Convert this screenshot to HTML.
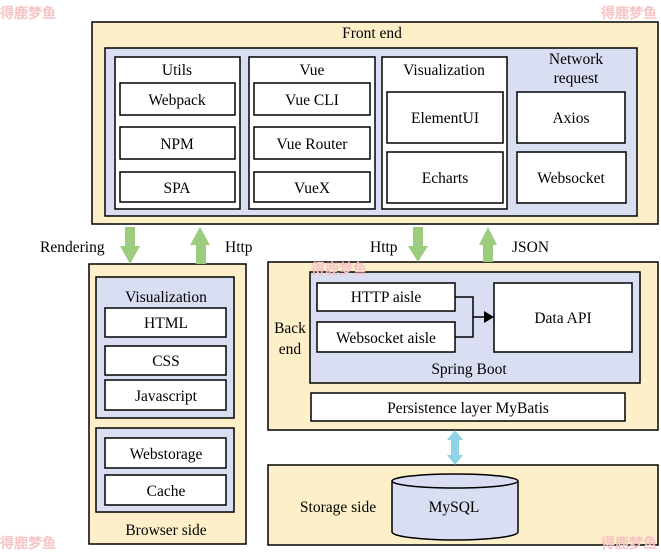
<!DOCTYPE html>
<html><head><meta charset="utf-8"><style>
body{margin:0;background:#fff}
svg text{font-family:"Liberation Serif",serif;font-size:15.5px;fill:#000}
</style></head><body>
<svg width="661" height="554" viewBox="0 0 661 554" xmlns="http://www.w3.org/2000/svg">
<g stroke="#000" stroke-width="1.5">
<!-- Front end -->
<rect x="92" y="22" width="566" height="202" fill="#fdf0c8"/>
<rect x="105" y="48" width="532" height="168" fill="#d9def3"/>
<rect x="115" y="57" width="125" height="152" fill="#fff"/>
<rect x="120" y="83" width="115" height="32" fill="#fff"/>
<rect x="120" y="127" width="115" height="32" fill="#fff"/>
<rect x="120" y="172" width="115" height="30" fill="#fff"/>
<rect x="249" y="57" width="126" height="152" fill="#fff"/>
<rect x="254" y="83" width="116" height="32" fill="#fff"/>
<rect x="254" y="127" width="116" height="32" fill="#fff"/>
<rect x="254" y="172" width="116" height="30" fill="#fff"/>
<rect x="382" y="57" width="125" height="152" fill="#fff"/>
<rect x="387" y="92" width="116" height="51" fill="#fff"/>
<rect x="387" y="152" width="116" height="51" fill="#fff"/>
<rect x="517" y="92" width="108" height="51" fill="#fff"/>
<rect x="517" y="152" width="109" height="51" fill="#fff"/>
<!-- Browser side -->
<rect x="89" y="264" width="157" height="280" fill="#fdf0c8"/>
<rect x="96" y="277" width="138" height="141" fill="#d9def3"/>
<rect x="105" y="308" width="121" height="29" fill="#fff"/>
<rect x="105" y="346" width="121" height="29" fill="#fff"/>
<rect x="105" y="380" width="121" height="30" fill="#fff"/>
<rect x="96" y="428" width="138" height="84" fill="#d9def3"/>
<rect x="105" y="438" width="121" height="30" fill="#fff"/>
<rect x="105" y="475" width="121" height="30" fill="#fff"/>
<!-- Back end -->
<rect x="268" y="262" width="390" height="168" fill="#fdf0c8"/>
<rect x="310" y="272" width="330" height="111" fill="#d9def3"/>
<rect x="317" y="283" width="138" height="28" fill="#fff"/>
<rect x="317" y="322" width="138" height="30" fill="#fff"/>
<rect x="494" y="283" width="138" height="69" fill="#fff"/>
<rect x="311" y="393" width="314" height="28" fill="#fff"/>
<!-- Storage -->
<rect x="268" y="465" width="390" height="80" fill="#fdf0c8"/>
<path d="M392 481 V532 A63 8 0 0 0 518 532 V481" fill="#d9def3"/>
<ellipse cx="455" cy="481" rx="63" ry="7" fill="#d9def3"/>
<polyline points="455,297 473,297 473,337 455,337" fill="none"/>
<line x1="473" y1="317" x2="484" y2="317"/>
</g>
<polygon points="484,311 494,317 484,323" fill="#000"/>
<!-- green arrows -->
<g fill="#9ccd7e">
<polygon points="125,227 135,227 135,246 140,246 130,264 120,246 125,246"/>
<polygon points="196,264 206,264 206,245 210,245 200,227 190,245 196,245"/>
<polygon points="413,227 423,227 423,246 428,246 418,262 408,246 413,246"/>
<polygon points="483,262 493,262 493,245 497,245 488,227 479,245 483,245"/>
</g>
<polygon points="455,430 463,440 459,440 459,455 463,455 455,465 447,455 451,455 451,440 447,440" fill="#8fd3e6"/>
<g text-anchor="middle">
<text x="372" y="38">Front end</text>
<text x="177" y="75">Utils</text>
<text x="312" y="75">Vue</text>
<text x="444" y="75">Visualization</text>
<text x="576" y="64">Network</text>
<text x="576" y="83">request</text>
<text x="177" y="105">Webpack</text>
<text x="177" y="149">NPM</text>
<text x="177" y="193">SPA</text>
<text x="312" y="105">Vue CLI</text>
<text x="312" y="149">Vue Router</text>
<text x="312" y="193">VueX</text>
<text x="445" y="123">ElementUI</text>
<text x="445" y="183">Echarts</text>
<text x="571" y="123">Axios</text>
<text x="571" y="183">Websocket</text>
<text x="166" y="302">Visualization</text>
<text x="166" y="328">HTML</text>
<text x="166" y="366">CSS</text>
<text x="166" y="401">Javascript</text>
<text x="166" y="459">Webstorage</text>
<text x="166" y="496">Cache</text>
<text x="166" y="535">Browser side</text>
<text x="386" y="302">HTTP aisle</text>
<text x="386" y="343">Websocket aisle</text>
<text x="563" y="323">Data API</text>
<text x="469" y="374">Spring Boot</text>
<text x="468" y="413">Persistence layer MyBatis</text>
<text x="290" y="333">Back</text>
<text x="290" y="354">end</text>
<text x="454" y="512">MySQL</text>
<text x="338" y="512">Storage side</text>
</g>
<text x="40" y="252">Rendering</text>
<text x="225" y="252">Http</text>
<text x="370" y="252">Http</text>
<text x="512" y="252">JSON</text>
<g font-size="14" fill="#f6c4c4" style="font-family:'Noto Sans CJK SC',sans-serif;font-weight:bold">
<text x="0" y="18" style="fill:#f6c4c4;font-size:14px">得鹿梦鱼</text>
<text x="601" y="18" style="fill:#f6c4c4;font-size:14px">得鹿梦鱼</text>
<text x="311" y="274" style="fill:#f6c4c4;font-size:14px">得鹿梦鱼</text>
<text x="0" y="548" style="fill:#f6c4c4;font-size:14px">得鹿梦鱼</text>
<text x="601" y="548" style="fill:#f6c4c4;font-size:14px">得鹿梦鱼</text>
</g>
</svg>
</body></html>
